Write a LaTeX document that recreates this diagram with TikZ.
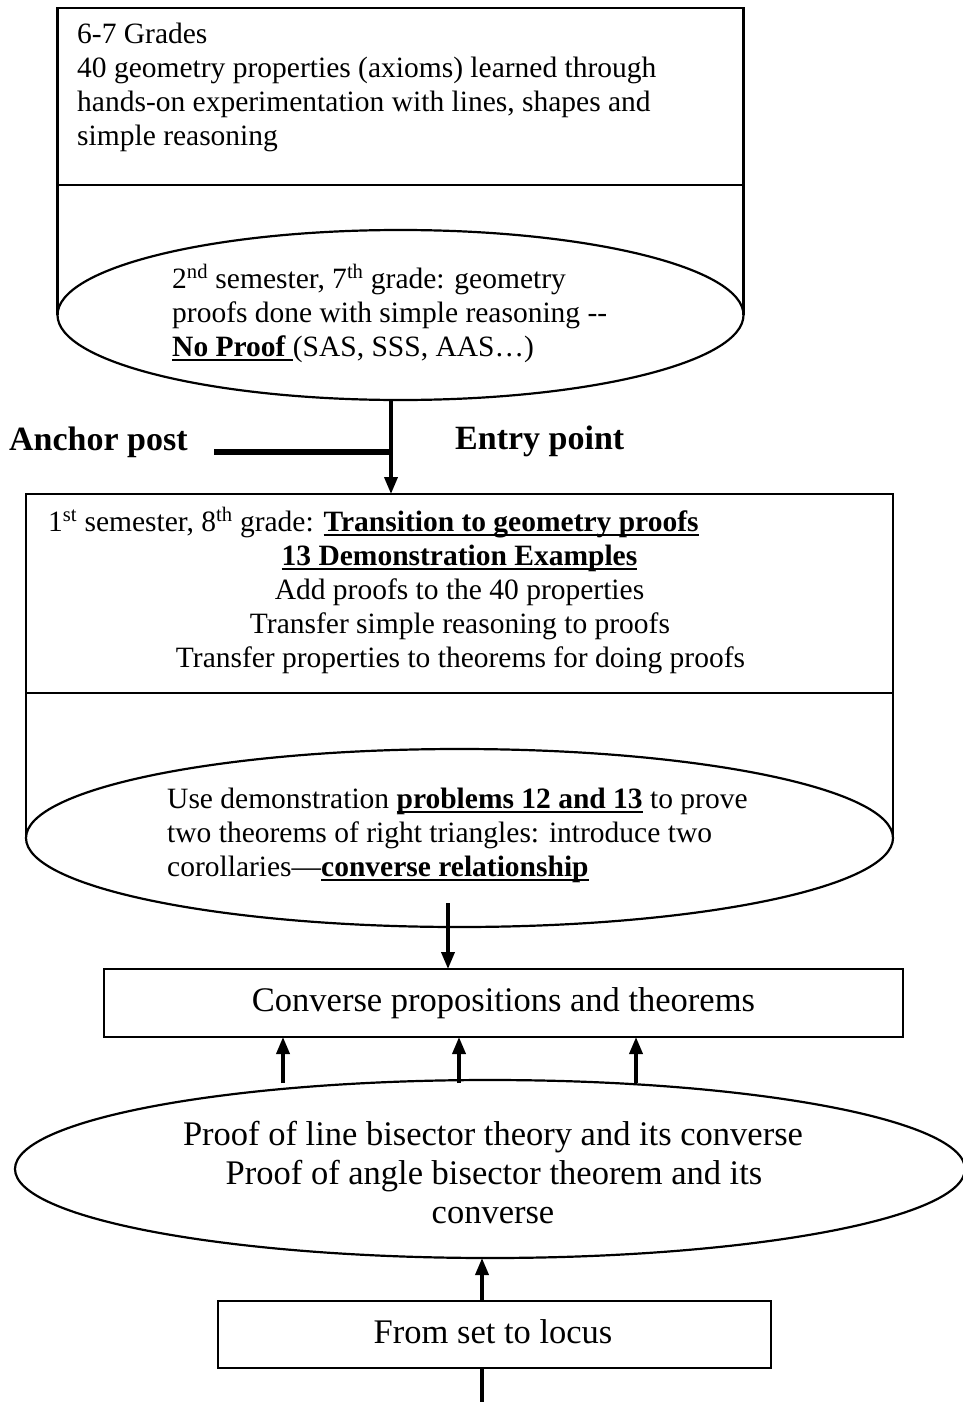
\documentclass[tikz,border=0pt]{standalone}
\usepackage{fontspec}
\setmainfont{Liberation Serif}
\usetikzlibrary{arrows.meta,shapes.geometric}
% bold text with a rule a little below the baseline
\newcommand\ulbf[1]{\setbox0\hbox{\bfseries #1}\rlap{\rule[-5pt]{\wd0}{2pt}}\box0\relax}

\begin{document}
\begin{tikzpicture}[x=1pt,y=-1pt,
  boxline/.style={line width=2.2pt},
  box/.style={draw, boxline, rectangle, inner sep=0pt, outer sep=0pt},
  ell/.style={draw, boxline, ellipse, inner sep=0pt, outer sep=0pt},
  txt/.style={inner sep=0pt, font=\fontsize{29.5}{34}\selectfont},
  bigtxt/.style={inner sep=0pt, font=\fontsize{34.5}{39}\selectfont},
  tag/.style={inner sep=0pt, font=\fontsize{34}{39}\selectfont\bfseries},
  arr/.style={line width=3.6pt, -{Triangle[length=17pt,width=13pt]}},
  bar/.style={line width=6.5pt},
  stem/.style={line width=3.6pt}]

\clip (0,0) rectangle (963,1402);

% ---- grades 6-7 block ----
\node[box, minimum width=686, minimum height=177] (g67) at (400.5,96.5) {};
\node[ell, minimum width=686, minimum height=170] (e1) at (400.5,315) {};
\draw[boxline] (g67.south west) -- (e1.west);
\draw[boxline] (g67.south east) -- (e1.east);

\node[txt, anchor=base west] (g1) at (77,44) {6-7 Grades};
\node[txt, anchor=base west] (g2) at (77,78) {40 geometry properties (axioms) learned through};
\node[txt, anchor=base west] (g3) at (77,112) {hands-on experimentation with lines, shapes and};
\node[txt, anchor=base west] (g4) at (77,146) {simple reasoning};

\node[txt, anchor=base west] (s1) at (172,288) {2\textsuperscript{nd} semester, 7\textsuperscript{th} grade: geometry};
\node[txt, anchor=base west] (s2) at (172,322) {proofs done with simple reasoning {-}{-}};
\node[txt, anchor=base west] (s3) at (172,356) {\ulbf{No Proof }(SAS, SSS, AAS\ldots)};

% ---- anchor post / entry point ----
\node[tag, anchor=base west] (anchor) at (9,450) {Anchor post};
\node[tag, anchor=base west] (entry) at (455,449) {Entry point};

% ---- grade 8 block ----
\node[box, minimum width=867, minimum height=199] (b8) at (459.5,593.5) {};
\node[ell, minimum width=867, minimum height=178] (e2) at (459.5,838) {};
\draw[boxline] (b8.south west) -- (e2.west);
\draw[boxline] (b8.south east) -- (e2.east);

\node[txt, anchor=base west] (t1) at (48,531) {1\textsuperscript{st} semester, 8\textsuperscript{th} grade: \ulbf{Transition to geometry proofs}};
\node[txt, anchor=base] (t2) at (459.5,565) {\ulbf{13 Demonstration Examples}};
\node[txt, anchor=base] (t3) at (459.5,599) {Add proofs to the 40 properties};
\node[txt, anchor=base] (t4) at (460,633) {Transfer simple reasoning to proofs};
\node[txt, anchor=base] (t5) at (460.5,667) {Transfer properties to theorems for doing proofs};

\node[txt, anchor=base west] (d1) at (167,808) {Use demonstration \ulbf{problems 12 and 13} to prove};
\node[txt, anchor=base west] (d2) at (167,842) {two theorems of right triangles: introduce two};
\node[txt, anchor=base west] (d3) at (167,876) {corollaries—\ulbf{converse relationship}};

% ---- converse propositions ----
\node[box, minimum width=799, minimum height=68] (conv) at (503.5,1003) {};
\node[bigtxt, anchor=base] (convt) at (503.5,1011) {Converse propositions and theorems};

\node[ell, minimum width=950, minimum height=178] (e3) at (490,1169) {};
\node[bigtxt, anchor=base] (p1) at (493,1145) {Proof of line bisector theory and its converse};
\node[bigtxt, anchor=base] (p2) at (494,1184) {Proof of angle bisector theorem and its};
\node[bigtxt, anchor=base] (p3) at (493,1223) {converse};

% ---- set to locus ----
\node[box, minimum width=553, minimum height=67] (locus) at (494.5,1334.5) {};
\node[bigtxt, anchor=base] (locust) at (493,1343) {From set to locus};

% ---- connectors ----
\coordinate (c1) at (391,400);
\draw[arr] (c1) -- (c1 |- b8.north);
\coordinate (anc) at (214,452);
\draw[bar] (anc) -- (anc -| c1);

\coordinate (c2) at (448,903);
\draw[arr] (c2) -- (c2 |- conv.north);

\foreach \x/\n in {283/u1,459/u2,636/u3}{
  \coordinate (\n) at (\x,1083);
  \draw[arr] (\n) -- (\n |- conv.south);
}

\coordinate (c4) at (482,0);
\draw[arr] (c4 |- locus.north) -- (c4 |- e3.south);
\coordinate (cend) at (482,1402);
\draw[stem] (c4 |- locus.south) -- (cend);
\end{tikzpicture}
\end{document}
